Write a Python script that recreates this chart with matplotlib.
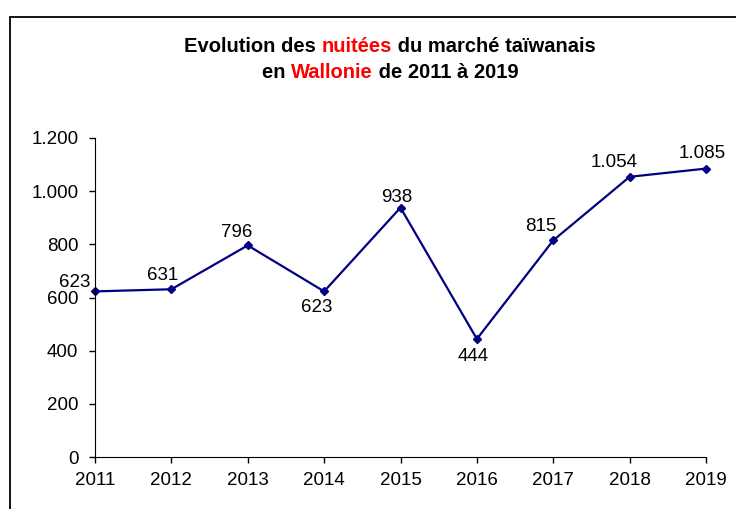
import matplotlib
matplotlib.use('Agg')
import matplotlib.pyplot as plt
from matplotlib.patches import Rectangle
from matplotlib.ticker import FuncFormatter

# data
years = [2011, 2012, 2013, 2014, 2015, 2016, 2017, 2018, 2019]
nuitees = [623, 631, 796, 623, 938, 444, 815, 1054, 1085]
yticks = [0, 200, 400, 600, 800, 1000, 1200]

# label offsets in pixels (dx, dy) from each point
lbl_off = [(-20, 9), (-9, 14), (-11, 13), (-7, -16), (-4, 10),
           (-4, -18), (-12, 14), (-15, 14), (-4, 15)]

plt.rcParams['font.family'] = ['Liberation Sans', 'DejaVu Sans']

W, H = 736, 509
fig = plt.figure(figsize=(W / 100, H / 100), dpi=100)
ax = fig.add_axes([95 / W, 1 - 457 / H, (706 - 95) / W, (457 - 138) / H])


def fmt(v):
    return f'{int(v):,}'.replace(',', '.')


ax.plot(years, nuitees, color='#000080', lw=1.6, marker='D', ms=4.5,
        clip_on=False)
for x, y, (dx, dy) in zip(years, nuitees, lbl_off):
    ax.annotate(fmt(y), (x, y), xytext=(dx, dy), textcoords='offset pixels',
                ha='center', va='center', fontsize=13.5, color='black')

ax.set_xlim(years[0], years[-1])
ax.set_ylim(0, 1200)
ax.set_xticks(years)
ax.set_yticks(yticks)
ax.yaxis.set_major_formatter(FuncFormatter(lambda v, p: fmt(v)))
ax.spines['top'].set_visible(False)
ax.spines['right'].set_visible(False)
ax.tick_params(labelsize=13.5, length=4, width=1, direction='out')
ax.tick_params(axis='x', pad=7)
ax.tick_params(axis='y', pad=8)

# outer frame
fig.patches.append(Rectangle((10 / W, -0.1), 1.2, 1 - 17 / H + 0.1,
                             transform=fig.transFigure, fill=False,
                             lw=1.3, ec='black'))

# title with coloured words
renderer = fig.canvas.get_renderer()


def rich_line(y_px, parts, cx=390):
    texts = []
    for s, c in parts:
        t = fig.text(0, 1 - y_px / H, s, color=c, fontsize=14.5,
                     fontweight='bold', va='center', ha='left')
        texts.append(t)
    widths = [t.get_window_extent(renderer).width for t in texts]
    x = cx - sum(widths) / 2
    for t, w in zip(texts, widths):
        t.set_x(x / W)
        x += w


rich_line(47, [('Evolution des ', 'black'), ('nuitées', 'red'),
               (' du marché taïwanais', 'black')])
rich_line(72, [('en ', 'black'), ('Wallonie', 'red'),
               (' de 2011 à 2019', 'black')])

fig.savefig('out.png', dpi=100)
